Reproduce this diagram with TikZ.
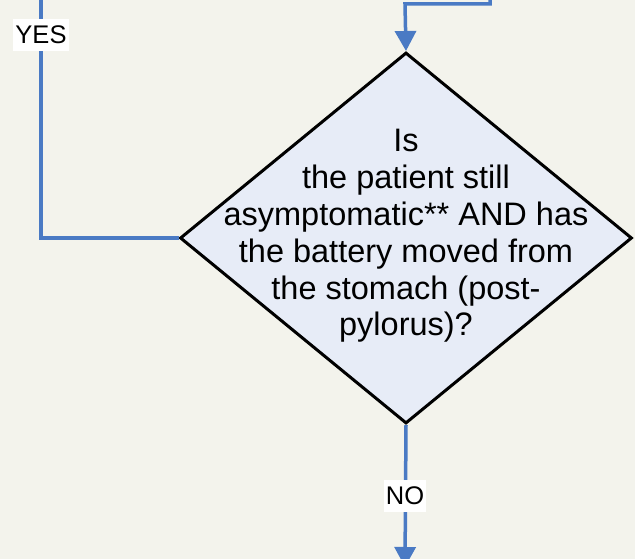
\documentclass[tikz,border=0pt]{standalone}
\usepackage{fontspec}
\setmainfont{Liberation Sans}
\usetikzlibrary{shapes.geometric,arrows.meta}
\definecolor{bgc}{HTML}{F3F3EC}
\definecolor{flowblue}{HTML}{4A7AC4}
\definecolor{qfill}{HTML}{E7ECF7}
\tikzset{
  flow/.style={draw=flowblue, line width=3.5pt},
  flowarrow/.style={flow, -{Triangle[width=21pt,length=20pt]}},
  decision/.style={shape=diamond, draw=black, fill=qfill, line width=3pt, inner sep=0pt, minimum width=452pt, minimum height=371pt},
  qtext/.style={align=center, font=\fontsize{32.5}{36.8}\selectfont, inner sep=0pt},
  lbl/.style={fill=white, font=\fontsize{25.5}{28}\selectfont, inner xsep=2pt, minimum height=32pt, inner ysep=0pt}
}
\begin{document}
\begin{tikzpicture}[x=1pt,y=-1pt]
\fill[bgc] (0,0) rectangle (635,559);
\useasboundingbox (0,0) rectangle (635,559);
\node[decision] (q) at (406,238) {};
\node[qtext] (qt) at (406,236) {Is\\the patient still\\asymptomatic** AND has\\the battery moved from\\the stomach (post-\\pylorus)?};
\coordinate (tin) at (490,-5);
\coordinate (tbend) at (405,4);
\draw[flowarrow] (tin) |- (tbend) -- (q.north);
\coordinate (lout) at (41,-5);
\draw[flow] (q.west) -| (lout);
\node[lbl] (yes) at (41,35) {YES};
\coordinate (bout) at (405,567);
\draw[flowarrow] (q.south) -- (bout);
\node[lbl] (no) at (405,496) {NO};
\end{tikzpicture}
\end{document}
